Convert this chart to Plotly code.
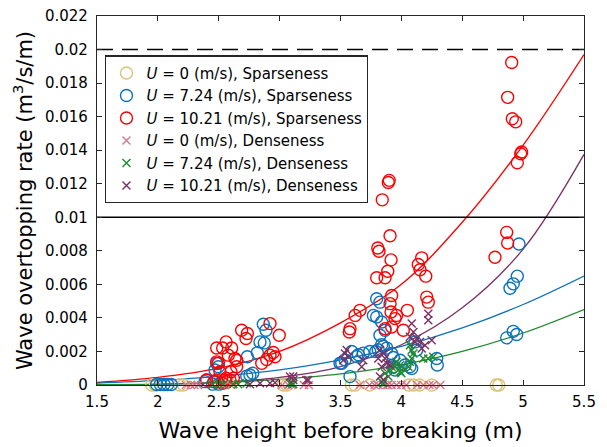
import plotly.graph_objects as go

# ---------------- data ----------------
# U = 0 m/s, Sparseness (circles at zero)
y0s_x = [1.95, 1.98, 2.18, 2.21, 3.03, 3.06, 3.59, 3.62, 3.74, 4.06, 4.10, 4.15, 4.25, 4.78, 4.80]
y0s_y = [0.0] * len(y0s_x)

# U = 7.24 m/s, Sparseness
u7s_x = [2.866, 2.888, 2.839, 2.874, 2.817, 2.735, 2.483, 2.497, 2.469, 2.779, 2.730, 2.400, 2.387, 2.756,
         1.99, 2.02, 2.05, 2.08, 2.11, 2.45, 2.50,
         3.797, 3.824, 3.770, 3.797, 3.838, 3.866, 3.824, 3.838, 3.852, 3.880, 3.810, 3.790, 3.740, 3.687,
         3.647, 3.633, 3.592, 3.537, 3.510, 3.496, 3.578, 3.920, 3.934, 3.990, 4.030, 4.070, 4.085, 3.948,
         3.934, 4.290, 4.295, 4.112, 4.126,
         4.966, 4.952, 4.919, 4.892, 4.865, 4.919, 4.947]
u7s_y = [0.00362, 0.00326, 0.00257, 0.00251, 0.00192, 0.00168, 0.00129, 0.00109, 0.00089, 0.00070, 0.00053, 0.00030, 0.00020, 0.00060,
         0.00003, 0.00003, 0.00003, 0.00003, 0.00003, 0.00005, 0.00005,
         0.00514, 0.00494, 0.00415, 0.00405, 0.00376, 0.00326, 0.00297, 0.00240, 0.00230, 0.00220, 0.00210, 0.00200, 0.00200, 0.00190,
         0.00180, 0.00170, 0.00200, 0.00150, 0.00130, 0.00130, 0.00050, 0.00188, 0.00164, 0.00148, 0.00119, 0.00109, 0.00099, 0.00089,
         0.00109, 0.00158, 0.00119, 0.00257, 0.00208,
         0.00841, 0.00649, 0.00603, 0.00577, 0.00281, 0.00320, 0.00301]

# U = 10.21 m/s, Sparseness
u10s_x = [3.893, 3.900, 3.843, 3.907, 3.806, 3.816, 3.915, 4.167, 4.139, 4.153, 3.888, 3.797, 3.866, 4.200,
          3.920, 3.907, 3.660, 3.620, 3.578, 3.572, 3.915, 3.960, 3.948, 4.049, 3.866, 3.920, 4.016, 4.208, 4.221,
          4.906, 4.873, 4.911, 4.939, 4.988, 4.980, 4.952, 4.865, 4.873, 4.769,
          2.921, 2.688, 2.735, 2.724, 2.997, 2.560, 2.483, 2.532, 2.606, 2.578, 2.633, 2.647, 2.948, 2.921,
          2.962, 2.894, 2.853, 2.647, 2.600, 2.510, 2.483, 2.497, 2.400, 2.483, 2.551, 2.592, 2.560, 2.620,
          2.460, 2.530]
u10s_y = [0.01207, 0.01220, 0.01104, 0.00890, 0.00817, 0.00797, 0.00746, 0.00758, 0.00718, 0.00687, 0.00678, 0.00639, 0.00639, 0.00649,
          0.00534, 0.00485, 0.00445, 0.00415, 0.00336, 0.00316, 0.00435, 0.00415, 0.00396, 0.00445, 0.00336, 0.00346, 0.00326, 0.00524, 0.00494,
          0.01923, 0.01715, 0.01587, 0.01569, 0.01389, 0.01379, 0.01325, 0.00910, 0.00847, 0.00762,
          0.00366, 0.00326, 0.00307, 0.00277, 0.00297, 0.00257, 0.00221, 0.00221, 0.00221, 0.00178, 0.00158, 0.00148, 0.00194, 0.00178,
          0.00168, 0.00152, 0.00129, 0.00109, 0.00079, 0.00079, 0.00138, 0.00129, 0.00030, 0.00030, 0.00030, 0.00030, 0.00040, 0.00040,
          0.00020, 0.00010]

# U = 0 m/s, Denseness (crosses at zero)
u0d_x = [2.23, 2.27, 2.30, 2.33, 2.55, 2.60, 3.02, 3.07, 3.10, 3.20, 3.24, 3.66, 3.74, 3.78, 3.81, 3.85,
         3.88, 3.89, 3.92, 3.96, 4.00, 4.04, 4.13, 4.18, 4.23, 4.26, 4.32]
u0d_y = [0.0] * len(u0d_x)

# U = 7.24 m/s, Denseness
u7d_x = [4.070, 4.085, 4.099, 3.960, 3.990, 3.948, 3.975, 3.990, 4.000, 4.030, 4.057, 4.070, 4.085, 4.180,
         4.220, 4.262, 3.866, 3.893, 3.907, 3.920, 3.838, 3.850,
         2.537, 2.619, 2.660, 2.730, 3.085, 3.112, 3.100, 2.450, 2.500]
u7d_y = [0.00237, 0.00208, 0.00188, 0.00138, 0.00119, 0.00109, 0.00089, 0.00079, 0.00070, 0.00089, 0.00109, 0.00138, 0.00158, 0.00158,
         0.00158, 0.00168, 0.00070, 0.00050, 0.00089, 0.00109, 0.00020, 0.00010,
         0.00005, 0.00005, 0.00005, 0.00010, 0.00010, 0.00005, 0.00010, 0.00003, 0.00003]

# U = 10.21 m/s, Denseness
u10d_x = [4.221, 4.221, 4.085, 4.099, 4.070, 4.126, 4.153, 4.112, 4.249, 4.194, 4.167, 3.551, 3.537, 3.564,
          3.523, 3.824, 3.852, 3.866, 3.880, 3.907, 3.810, 3.838, 3.687, 3.674, 3.824, 3.852,
          2.756, 2.839, 2.921, 2.962, 3.085, 3.112, 3.220, 3.236, 3.112]
u10d_y = [0.00425, 0.00386, 0.00366, 0.00316, 0.00287, 0.00277, 0.00257, 0.00257, 0.00267, 0.00237, 0.00218, 0.00208, 0.00188, 0.00168,
          0.00148, 0.00208, 0.00188, 0.00158, 0.00129, 0.00119, 0.00158, 0.00109, 0.00148, 0.00109, 0.00050, 0.00030,
          0.00005, 0.00010, 0.00010, 0.00013, 0.00050, 0.00030, 0.00030, 0.00030, 0.00050]

# fitted curves
curve_x = [1.5, 2.0, 2.5, 3.0, 3.5, 4.0, 4.5, 5.0, 5.5]
fit_u10s = [0.00015, 0.00045, 0.0010, 0.0020, 0.0037, 0.0060, 0.0097, 0.0143, 0.0197]
fit_u10d = [0.00001, 0.00004, 0.00016, 0.00045, 0.0011, 0.0024, 0.0046, 0.0081, 0.01375]
fit_u7s = [0.00011, 0.00027, 0.00052, 0.0009, 0.0015, 0.0023, 0.0034, 0.0048, 0.0065]
fit_u7d = [0.00002, 0.00005, 0.00015, 0.00034, 0.00066, 0.0012, 0.0020, 0.0031, 0.0045]

ref_limit_high = 0.02
ref_limit_low = 0.01

x_ticks = [1.5, 2, 2.5, 3, 3.5, 4, 4.5, 5, 5.5]
x_tick_labels = ["1.5", "2", "2.5", "3", "3.5", "4", "4.5", "5", "5.5"]
y_ticks = [0, 0.002, 0.004, 0.006, 0.008, 0.01, 0.012, 0.014, 0.016, 0.018, 0.02, 0.022]
y_tick_labels = ["0", "0.002", "0.004", "0.006", "0.008", "0.01", "0.012", "0.014", "0.016", "0.018", "0.02", "0.022"]

# ---------------- style ----------------
C_Y = "#d8c47a"
C_B = "#0b72bd"
C_R = "#ff0000"
C_P = "#d9768a"
C_G = "#1e8a2e"
C_M = "#7e2f63"
FONT = "DejaVu Sans"

fig = go.Figure()

# curves first (behind markers), not in legend
for ys, col in [(fit_u10s, C_R), (fit_u10d, C_M), (fit_u7s, C_B), (fit_u7d, C_G)]:
    fig.add_trace(go.Scatter(x=curve_x, y=ys, mode="lines", line=dict(color=col, width=1.3, shape="spline"),
                             showlegend=False, hoverinfo="skip"))

# reference horizontal lines
fig.add_trace(go.Scatter(x=[1.5, 5.5], y=[ref_limit_high, ref_limit_high], mode="lines",
                         line=dict(color="black", width=1.5, dash="16px,9px"), showlegend=False))
fig.add_trace(go.Scatter(x=[1.5, 5.5], y=[ref_limit_low, ref_limit_low], mode="lines",
                         line=dict(color="black", width=1.5), showlegend=False))

def circ(x, y, col, name):
    fig.add_trace(go.Scatter(x=x, y=y, mode="markers", name=name, cliponaxis=False,
                             marker=dict(symbol="circle-open", size=12, color=col, line=dict(width=1.4, color=col))))

def cross(x, y, col, name):
    fig.add_trace(go.Scatter(x=x, y=y, mode="markers", name=name, cliponaxis=False,
                             marker=dict(symbol="x-thin-open", size=8, color=col, line=dict(width=1.4, color=col))))

circ(y0s_x, y0s_y, C_Y, "<i>U</i> = 0 (m/s), Sparseness")
circ(u7s_x, u7s_y, C_B, "<i>U</i> = 7.24 (m/s), Sparseness")
circ(u10s_x, u10s_y, C_R, "<i>U</i> = 10.21 (m/s), Sparseness")
cross(u0d_x, u0d_y, C_P, "<i>U</i> = 0 (m/s), Denseness")
cross(u7d_x, u7d_y, C_G, "<i>U</i> = 7.24 (m/s), Denseness")
cross(u10d_x, u10d_y, C_M, "<i>U</i> = 10.21 (m/s), Denseness")

axis_common = dict(showgrid=False, zeroline=False, showline=True, linecolor="#262626", linewidth=1.2,
                   mirror="ticks", ticks="inside", ticklen=5, tickcolor="#262626", automargin=False,
                   ticklabeloverflow="allow",
                   tickfont=dict(family=FONT, size=15, color="black"))

# the page body adds an 8px margin at left/top, so the figure is sized to fit the 607x447 window
fig.update_layout(
    width=599, height=439,
    margin=dict(l=89, r=23, t=8, b=62),
    paper_bgcolor="white", plot_bgcolor="white",
    font=dict(family=FONT, color="black"),
    xaxis=dict(range=[1.5, 5.5], tickvals=x_ticks, ticktext=x_tick_labels, ticklabelstandoff=3,
               title=dict(text="Wave height before breaking (m)", font=dict(family=FONT, size=22), standoff=12),
               **axis_common),
    yaxis=dict(range=[0, 0.022], tickvals=y_ticks, ticktext=y_tick_labels, ticklabelstandoff=5,
               title=dict(text="Wave overtopping rate (m<sup>3</sup>/s/m)", font=dict(family=FONT, size=21), standoff=6),
               **axis_common),
    legend=dict(x=0.017, y=0.893, xanchor="left", yanchor="top", bgcolor="white",
                bordercolor="#262626", borderwidth=1.2, font=dict(family=FONT, size=15),
                tracegroupgap=0, itemsizing="trace"),
    showlegend=True,
)

fig.write_html("out.html")
